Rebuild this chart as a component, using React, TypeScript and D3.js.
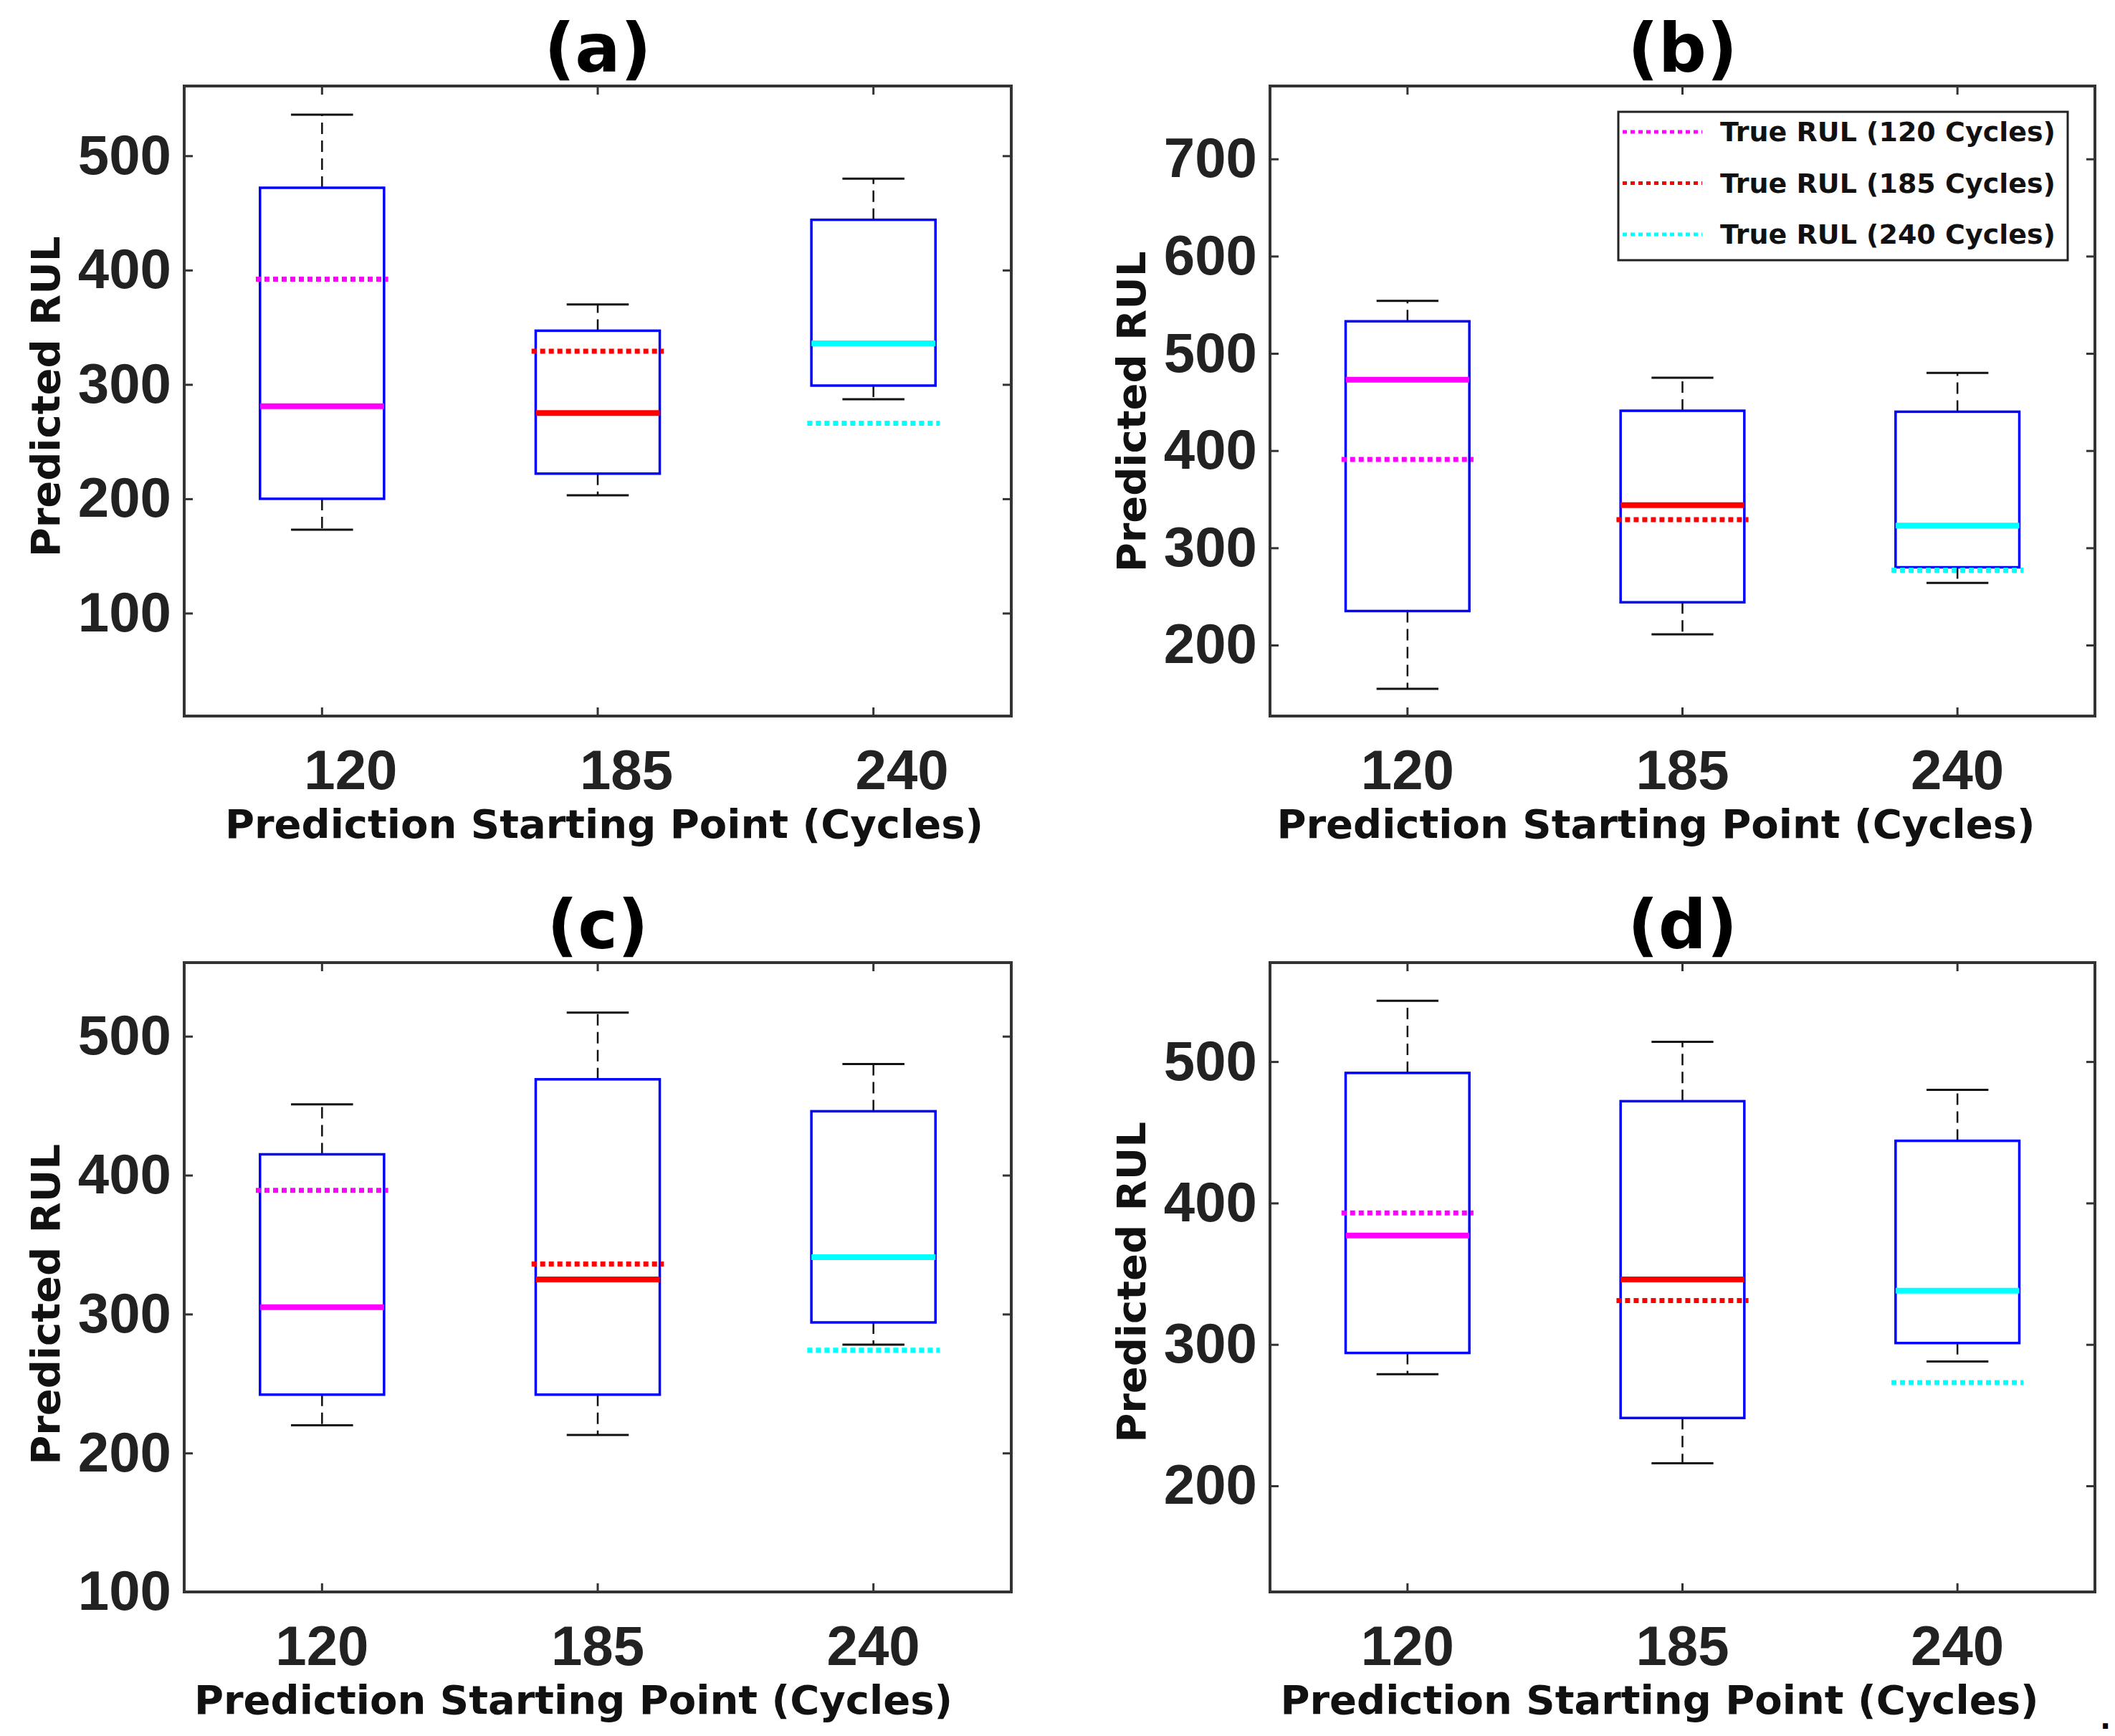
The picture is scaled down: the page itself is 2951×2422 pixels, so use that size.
import React, { useEffect, useRef } from "react";
import * as d3 from "d3";

const categories = ["120", "185", "240"];
const panelNames = ["(a)", "(b)", "(c)", "(d)"];

// box statistics per panel, one value per category
const lowerWhisker = [
  [173, 203, 287],
  [155, 211, 264],
  [220, 213, 278],
  [279, 216, 288],
];
const q1 = [
  [200, 222, 299],
  [235, 244, 280],
  [242, 242, 294],
  [294, 248, 301],
];
const medians = [
  [281, 275, 336],
  [473, 344, 323],
  [305, 325, 341],
  [377, 346, 338],
];
const q3 = [
  [472, 347, 444],
  [533, 441, 440],
  [415, 469, 446],
  [492, 472, 444],
];
const upperWhisker = [
  [536, 370, 480],
  [554, 475, 480],
  [451, 517, 480],
  [543, 514, 480],
];
const trueRUL = [
  [392, 329, 266],
  [391, 329, 277],
  [389, 336, 274],
  [393, 331, 273],
];

const yDomains = [
  [10, 561],
  [127, 775],
  [100, 553],
  [125, 570],
];
const yTickValues = [
  [100, 200, 300, 400, 500],
  [200, 300, 400, 500, 600, 700],
  [100, 200, 300, 400, 500],
  [200, 300, 400, 500],
];
const legendLabels = [
  "True RUL (120 Cycles)",
  "True RUL (185 Cycles)",
  "True RUL (240 Cycles)",
];
const seriesColors = ["#ff00ff", "#ff0000", "#00ffff"];

// panel frames in pixels
const frames = [
  { x0: 257, x1: 1411, y0: 120, y1: 999 },
  { x0: 1772, x1: 2923, y0: 120, y1: 999 },
  { x0: 257, x1: 1411, y0: 1343, y1: 2221 },
  { x0: 1772, x1: 2923, y0: 1343, y1: 2221 },
];
const xTickShift = [40, 0, 0, 0];
const xLabelShift = [9, -37, -34, -32];
const yLabelShift = [-6, 15, 38, 7];

const labelFont = "'DejaVu Sans', Verdana, sans-serif";
const tickFont = "'Liberation Sans', Arial, Helvetica, sans-serif";

const App: React.FC = () => {
  const svgRef = useRef<SVGSVGElement>(null);

  useEffect(() => {
    if (!svgRef.current) return;
    const svg = d3.select(svgRef.current);
    svg.selectAll("*").remove();

    frames.forEach((f, p) => {
      const x = d3.scaleBand().domain(categories).range([f.x0, f.x1]);
      const y = d3
        .scaleLinear()
        .domain(yDomains[p])
        .range([f.y1, f.y0]);
      const cx = (c: string) => x(c)! + x.bandwidth() / 2;
      const bw = x.bandwidth() * 0.45;
      const g = svg.append("g");

      const styleAxis = (sel: any) => {
        sel.select(".domain").remove();
        sel.selectAll("line").attr("stroke", "#333").attr("stroke-width", 3);
        sel
          .selectAll("text")
          .attr("font-family", tickFont)
          .attr("font-weight", "bold")
          .attr("font-size", 78)
          .attr("fill", "#222");
      };

      g.append("g")
        .attr("transform", `translate(${f.x0},0)`)
        .call(
          d3.axisLeft(y).tickValues(yTickValues[p]).tickSizeInner(-12).tickSizeOuter(0).tickPadding(18)
        )
        .call(styleAxis);
      g.append("g")
        .attr("transform", `translate(${f.x1},0)`)
        .call(
          d3.axisRight(y).tickValues(yTickValues[p]).tickSizeInner(-12).tickSizeOuter(0).tickFormat(() => "")
        )
        .call(styleAxis);
      g.append("g")
        .attr("transform", `translate(0,${f.y1})`)
        .call(d3.axisBottom(x).tickSizeInner(-12).tickSizeOuter(0).tickPadding(47))
        .call(styleAxis)
        .selectAll("text")
        .attr("dx", xTickShift[p]);
      g.append("g")
        .attr("transform", `translate(0,${f.y0})`)
        .call(d3.axisTop(x).tickSizeInner(-12).tickSizeOuter(0).tickFormat(() => ""))
        .call(styleAxis);

      // boxes
      categories.forEach((c, i) => {
        const xc = cx(c);
        const whiskers = [
          [q3[p][i], upperWhisker[p][i]],
          [q1[p][i], lowerWhisker[p][i]],
        ];
        whiskers.forEach(([from, to]) => {
          g.append("line")
            .attr("x1", xc)
            .attr("x2", xc)
            .attr("y1", y(from))
            .attr("y2", y(to))
            .attr("stroke", "#111")
            .attr("stroke-width", 2.5)
            .attr("stroke-dasharray", "16,9");
          g.append("line")
            .attr("x1", xc - bw / 4)
            .attr("x2", xc + bw / 4)
            .attr("y1", y(to))
            .attr("y2", y(to))
            .attr("stroke", "#111")
            .attr("stroke-width", 3);
        });
        g.append("rect")
          .attr("x", xc - bw / 2)
          .attr("y", y(q3[p][i]))
          .attr("width", bw)
          .attr("height", y(q1[p][i]) - y(q3[p][i]))
          .attr("fill", "none")
          .attr("stroke", "#0000ff")
          .attr("stroke-width", 3.5);
        const tw = x.bandwidth() * 0.24;
        g.append("line")
          .attr("x1", xc - tw)
          .attr("x2", xc + tw)
          .attr("y1", y(trueRUL[p][i]))
          .attr("y2", y(trueRUL[p][i]))
          .attr("stroke", seriesColors[i])
          .attr("stroke-width", 7)
          .attr("stroke-dasharray", "7,5");
        g.append("line")
          .attr("x1", xc - bw / 2)
          .attr("x2", xc + bw / 2)
          .attr("y1", y(medians[p][i]))
          .attr("y2", y(medians[p][i]))
          .attr("stroke", seriesColors[i])
          .attr("stroke-width", 8);
      });

      // frame
      g.append("rect")
        .attr("x", f.x0)
        .attr("y", f.y0)
        .attr("width", f.x1 - f.x0)
        .attr("height", f.y1 - f.y0)
        .attr("fill", "none")
        .attr("stroke", "#333")
        .attr("stroke-width", 4);

      // title
      g.append("text")
        .attr("x", (f.x0 + f.x1) / 2)
        .attr("y", f.y0 - 20)
        .attr("text-anchor", "middle")
        .attr("font-family", labelFont)
        .attr("font-weight", "bold")
        .attr("font-size", 94)
        .attr("fill", "#000")
        .text(panelNames[p]);

      // axis labels
      g.append("text")
        .attr("x", (f.x0 + f.x1) / 2 + xLabelShift[p])
        .attr("y", f.y1 + 170)
        .attr("text-anchor", "middle")
        .attr("font-family", labelFont)
        .attr("font-weight", "bold")
        .attr("font-size", 56)
        .attr("fill", "#111")
        .text("Prediction Starting Point (Cycles)");
      g.append("text")
        .attr(
          "transform",
          `translate(${f.x0 - 194},${(f.y0 + f.y1) / 2 + yLabelShift[p]}) rotate(-90)`
        )
        .attr("text-anchor", "middle")
        .attr("dominant-baseline", "central")
        .attr("font-family", labelFont)
        .attr("font-weight", "bold")
        .attr("font-size", 56)
        .attr("fill", "#111")
        .text("Predicted RUL");

      // legend in panel (b)
      if (p === 1) {
        const lx1 = f.x1 - 38;
        const lx0 = lx1 - 627;
        const ly0 = f.y0 + 36;
        const lg = g.append("g");
        lg.append("rect")
          .attr("x", lx0)
          .attr("y", ly0)
          .attr("width", lx1 - lx0)
          .attr("height", 207)
          .attr("fill", "#fff")
          .attr("stroke", "#222")
          .attr("stroke-width", 3);
        legendLabels.forEach((label, i) => {
          const ly = ly0 + 28 + i * 71.5;
          lg.append("line")
            .attr("x1", lx0 + 6)
            .attr("x2", lx0 + 117)
            .attr("y1", ly)
            .attr("y2", ly)
            .attr("stroke", seriesColors[i])
            .attr("stroke-width", 5)
            .attr("stroke-dasharray", "6,5");
          lg.append("text")
            .attr("x", lx0 + 142)
            .attr("y", ly)
            .attr("dominant-baseline", "central")
            .attr("font-family", labelFont)
            .attr("font-weight", "bold")
            .attr("font-size", 38)
            .attr("fill", "#111")
            .text(label);
        });
      }
    });

    svg
      .append("text")
      .attr("x", 2930)
      .attr("y", 2412)
      .attr("font-family", labelFont)
      .attr("font-weight", "bold")
      .attr("font-size", 40)
      .text(".");
  }, []);

  return (
    <svg
      ref={svgRef}
      width={2951}
      height={2422}
      style={{ position: "absolute", left: 0, top: 0, background: "#fff" }}
    />
  );
};

export default App;
